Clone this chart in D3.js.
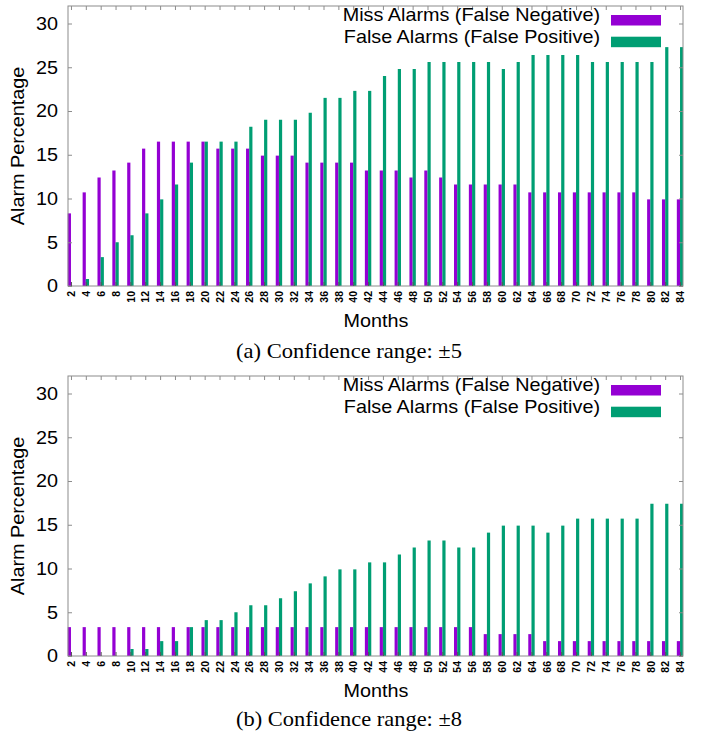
<!DOCTYPE html>
<html><head><meta charset="utf-8">
<script src="https://cdn.jsdelivr.net/npm/d3@7"></script>
<style>
html,body{margin:0;padding:0;background:#fff;}
svg{display:block;}
</style>
</head><body>
<script>
const months = [2,4,6,8,10,12,14,16,18,20,22,24,26,28,30,32,34,36,38,40,42,44,46,48,50,52,54,56,58,60,62,64,66,68,70,72,74,76,78,80,82,84];
const missA = [8.3,10.7,12.4,13.2,14.1,15.7,16.5,16.5,16.5,16.5,15.7,15.7,15.7,14.9,14.9,14.9,14.1,14.1,14.1,14.1,13.2,13.2,13.2,12.4,13.2,12.4,11.6,11.6,11.6,11.6,11.6,10.7,10.7,10.7,10.7,10.7,10.7,10.7,10.7,9.9,9.9,9.9];
const falseA = [0,0.8,3.3,5.0,5.8,8.3,9.9,11.6,14.1,16.5,16.5,16.5,18.2,19.0,19.0,19.0,19.8,21.5,21.5,22.3,22.3,24.0,24.8,24.8,25.6,25.6,25.6,25.6,25.6,24.8,25.6,26.4,26.4,26.4,26.4,25.6,25.6,25.6,25.6,25.6,27.3,27.3];
const missB = [3.3,3.3,3.3,3.3,3.3,3.3,3.3,3.3,3.3,3.3,3.3,3.3,3.3,3.3,3.3,3.3,3.3,3.3,3.3,3.3,3.3,3.3,3.3,3.3,3.3,3.3,3.3,3.3,2.5,2.5,2.5,2.5,1.7,1.7,1.7,1.7,1.7,1.7,1.7,1.7,1.7,1.7];
const falseB = [0,0,0,0,0.8,0.8,1.7,1.7,3.3,4.1,4.1,5.0,5.8,5.8,6.6,7.4,8.3,9.1,9.9,9.9,10.7,10.7,11.6,12.4,13.2,13.2,12.4,12.4,14.1,14.9,14.9,14.9,14.1,14.9,15.7,15.7,15.7,15.7,15.7,17.4,17.4,17.4];
const yTicks = [0,5,10,15,20,25,30];
const seriesNames = ["Miss Alarms (False Negative)","False Alarms (False Positive)"];
const captions = ["(a) Confidence range: \u00B15","(b) Confidence range: \u00B18"];
const colors = ["#9400D3","#009E73"];

const W = 710, H = 735;
const svg = d3.select("body").append("svg").attr("width",W).attr("height",H);
const sans = "'Liberation Sans', Arial, sans-serif";
const serif = "'Liberation Serif', 'Times New Roman', serif";
const axisColor = "#8c8c8c";
const SX = 1.1;

function panel(offY, miss, fals, caption, capOff){
  const g = svg.append("g").attr("transform",`translate(0,${offY})`);
  const left=68, right=683, top=6, bottom=286;
  const x = d3.scaleLinear().domain([-0.2, months.length-1+0.2]).range([left,right]);
  const y = d3.scaleLinear().domain([0,32]).range([bottom,top]);
  const bw = 3.2;
  g.append("g").selectAll("rect").data(months).join("rect")
    .attr("x",(d,i)=>x(i)-bw).attr("width",bw)
    .attr("y",(d,i)=>y(miss[i])).attr("height",(d,i)=>bottom-y(miss[i]))
    .attr("fill",colors[0]);
  g.append("g").selectAll("rect").data(months).join("rect")
    .attr("x",(d,i)=>x(i)).attr("width",(d,i)=>Math.min(bw, right-x(i)))
    .attr("y",(d,i)=>y(fals[i])).attr("height",(d,i)=>bottom-y(fals[i]))
    .attr("fill",colors[1]);
  g.append("rect").attr("x",left).attr("y",top).attr("width",right-left).attr("height",bottom-top)
    .attr("fill","none").attr("stroke",axisColor).attr("stroke-width",1);
  const yl = d3.axisLeft(y).tickValues(yTicks).tickSize(-4);
  const yg = g.append("g").attr("transform",`translate(${left},0)`).call(yl);
  yg.select(".domain").remove();
  yg.selectAll("line").attr("stroke",axisColor);
  yg.selectAll("text").attr("font-family",sans).attr("font-size",18).attr("fill","#000")
    .attr("x",-10/SX).attr("transform",`scale(${SX},1)`);
  const yr = d3.axisRight(y).tickValues(yTicks).tickSize(-4).tickFormat("");
  const yrg = g.append("g").attr("transform",`translate(${right},0)`).call(yr);
  yrg.select(".domain").remove();
  yrg.selectAll("line").attr("stroke",axisColor);
  const xb = d3.axisBottom(x).tickValues(d3.range(months.length)).tickSize(-4).tickFormat(i=>months[i]);
  const xg = g.append("g").attr("transform",`translate(0,${bottom})`).call(xb);
  xg.select(".domain").remove();
  xg.selectAll("line").attr("stroke","#555");
  xg.selectAll("text").attr("font-family",sans).attr("font-size",10.5).attr("font-weight","bold").attr("fill","#000")
    .attr("transform","rotate(-90)").attr("text-anchor","end").attr("x",-5).attr("y",0).attr("dy","0.35em");
  const xt = d3.axisTop(x).tickValues(d3.range(months.length)).tickSize(-4).tickFormat("");
  const xtg = g.append("g").attr("transform",`translate(0,${top})`).call(xt);
  xtg.select(".domain").remove();
  xtg.selectAll("line").attr("stroke",axisColor);
  g.append("text").attr("transform",`translate(24,${(top+bottom)/2}) rotate(-90) scale(${SX},1)`).attr("text-anchor","middle")
    .attr("font-family",sans).attr("font-size",18).text("Alarm Percentage");
  g.append("text").attr("transform",`translate(376,327) scale(${SX},1)`).attr("text-anchor","middle")
    .attr("font-family",sans).attr("font-size",18).text("Months");
  g.append("text").attr("x",349).attr("y",358+capOff).attr("text-anchor","middle")
    .attr("font-family",serif).attr("font-size",21).attr("textLength",226).attr("lengthAdjust","spacingAndGlyphs").text(caption);
  seriesNames.forEach((n,k)=>{
    const ly = 15 + k*21.7;
    g.append("text").attr("transform",`translate(600,${20.5 + k*22}) scale(${SX},1)`).attr("text-anchor","end")
      .attr("font-family",sans).attr("font-size",18).text(n);
    g.append("rect").attr("x",611).attr("y",ly).attr("width",50).attr("height",10.5).attr("fill",colors[k]);
  });
}
panel(0, missA, falseA, captions[0], 0);
panel(370, missB, falseB, captions[1], -2);
</script>
</body></html>
